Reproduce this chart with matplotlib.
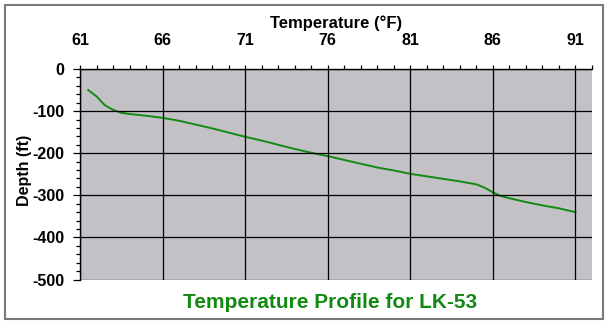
import matplotlib
matplotlib.use("Agg")
import matplotlib.pyplot as plt
from matplotlib.patches import Rectangle
from matplotlib.ticker import MultipleLocator

# temperature (F) and depth (ft)
temperature = [61.5, 62.0, 62.5, 63.0, 63.5, 64.0, 65.0, 66.0, 67.0, 68.0,
               69.0, 70.0, 71.0, 72.0, 73.0, 74.0, 75.0, 76.0, 77.0, 78.0,
               79.0, 80.0, 81.0, 82.0, 83.0, 84.0, 85.0, 85.5, 86.0, 86.5,
               87.0, 88.0, 89.0, 90.0, 91.0]
depth = [-50, -65, -86, -97, -104, -107, -111, -116, -123, -132,
         -141, -151, -161, -170, -180, -190, -199, -207, -216, -225,
         -234, -241, -249, -255, -261, -267, -274, -282, -293, -302,
         -307, -316, -324, -331, -340]

x_ticks = [61, 66, 71, 76, 81, 86, 91]
y_ticks = [0, -100, -200, -300, -400, -500]

FONT = "Liberation Sans"
GREEN = "#128a12"

plt.rcParams["axes.unicode_minus"] = False

fig = plt.figure(figsize=(6.12, 3.26), dpi=100)
fig.patches.append(Rectangle((4.5 / 612, 7 / 326), 598.5 / 612, 314.5 / 326,
                             transform=fig.transFigure, fill=False,
                             edgecolor="#7a7a7a", linewidth=1.5))

ax = fig.add_axes([80 / 612, 1 - 279.5 / 326, 512 / 612, 210.5 / 326])
ax.set_facecolor("#c3c0c6")
ax.plot(temperature, depth, color=GREEN, linewidth=1.4)

ax.set_xlim(61, 92)
ax.set_ylim(-500, 0)
ax.set_xticks(x_ticks)
ax.set_yticks(y_ticks)
ax.xaxis.set_minor_locator(MultipleLocator(1))
ax.yaxis.set_minor_locator(MultipleLocator(20))
ax.xaxis.tick_top()
ax.xaxis.set_label_position("top")
ax.grid(True, which="major", color="black", linewidth=0.9)
ax.set_axisbelow(False)

for side in ["right", "bottom"]:
    ax.spines[side].set_visible(False)
for side in ["left", "top"]:
    ax.spines[side].set_linewidth(1.0)

ax.tick_params(axis="x", which="major", length=3, width=0.9, pad=12)
ax.tick_params(axis="x", which="minor", length=3, width=0.9)
ax.tick_params(axis="y", which="major", length=5, width=0.9, pad=6)
ax.tick_params(axis="y", which="minor", length=3, width=0.9)

for lbl in ax.get_xticklabels() + ax.get_yticklabels():
    lbl.set_fontfamily(FONT)
    lbl.set_fontweight("bold")
    lbl.set_fontsize(11.5)

ax.set_xlabel("Temperature (°F)", fontfamily=FONT, fontweight="bold",
              fontsize=12, labelpad=4)
ax.set_ylabel("Depth (ft)", fontfamily=FONT, fontweight="bold",
              fontsize=11.5)
ax.yaxis.set_label_coords(-0.094, 0.52)

fig.text(330 / 612, 1 - 303 / 326, "Temperature Profile for LK-53",
         ha="center", va="center", color=GREEN, fontfamily=FONT,
         fontweight="bold", fontsize=15)

fig.savefig("out.png", dpi=100)
